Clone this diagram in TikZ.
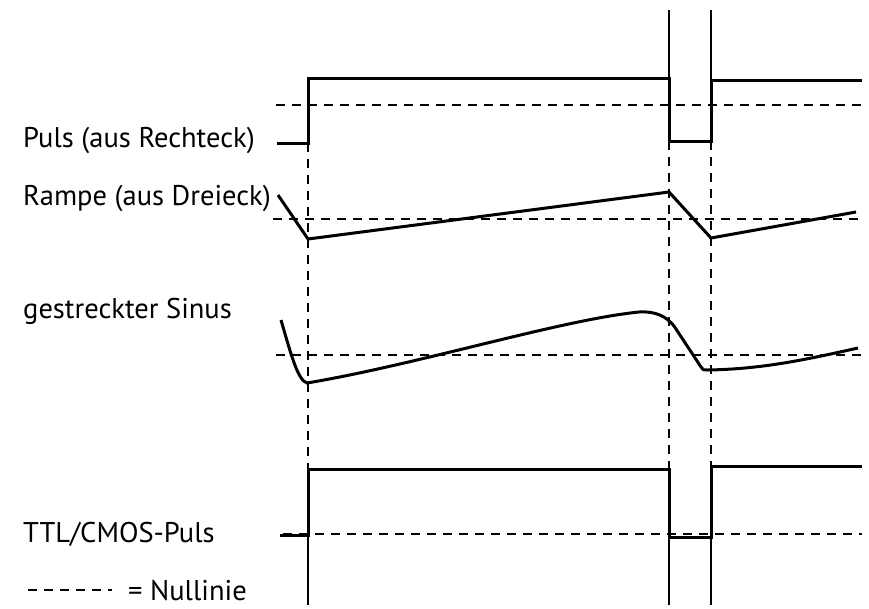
\documentclass[tikz,border=0pt]{standalone}
\usepackage{fontspec}
\setmainfont{PT Sans}
\usetikzlibrary{positioning}

\begin{document}
\begin{tikzpicture}[
  x=1pt, y=-1pt,
  every node/.style={font=\fontsize{28.5}{32}\selectfont,inner sep=0pt},
  lbl/.style={anchor=base west},
  sig/.style={line width=3pt,line join=miter},
  zero/.style={line width=1.9pt,dash pattern=on 9pt off 7pt},
  guide/.style={line width=1.8pt},
  guidedash/.style={line width=1.9pt,dash pattern=on 9pt off 7pt},
]
  \useasboundingbox (0,0) rectangle (869,608);

  % Labels
  \node[lbl] (lblpuls) at (23,147) {Puls (aus Rechteck)};
  \node[lbl] (lblrampe) at (23,205) {Rampe (aus Dreieck)};
  \node[lbl] (lblsinus) at (23,318) {gestreckter Sinus};
  \node[lbl] (lblttl) at (23,542) {TTL/CMOS-Puls};
  \node[lbl] (lblnull) at (128,600) {= Nullinie};

  % Zero lines
  \draw[zero] (276,105) -- (862,105);
  \draw[zero] (273,219) -- (862,219);
  \draw[zero] (276,355) -- (862,355);
  \draw[zero] (283,534) -- (862,534);
  \draw[zero] (28,590) -- (112,590);

  % Guide lines
  \draw[guide] (669,10) -- (669,78);
  \draw[guide] (711,10) -- (711,80);
  \draw[guidedash] (308,143) -- (308,469);
  \draw[guidedash] (669,141) -- (669,469);
  \draw[guidedash] (711,141) -- (711,466);
  \draw[guide] (308,469) -- (308,605);
  \draw[guide] (669,469) -- (669,605);
  \draw[guide] (711,466) -- (711,605);

  % Puls
  \draw[sig] (277,143) -- (308,143) -- (308,78) -- (669,78) -- (669,141)
    -- (711,141) -- (711,80) -- (862,80);

  % Rampe
  \draw[sig] (278,195) -- (308,239) -- (669,192) -- (711,238) -- (856,212);

  % Sinus
  \draw[sig] (281,320) .. controls (292,358) and (298,380) .. (307,383)
    .. controls (420,364) and (560,320) .. (639,312)
    .. controls (655,311) and (666,316) .. (674,326)
    -- (701,367) .. controls (703,370) .. (708,370)
    .. controls (760,369) and (800,361) .. (858,348);

  % TTL/CMOS
  \draw[sig] (280,535) -- (308,535) -- (308,469) -- (669,469) -- (669,537)
    -- (711,537) -- (711,466) -- (862,466);
\end{tikzpicture}
\end{document}
